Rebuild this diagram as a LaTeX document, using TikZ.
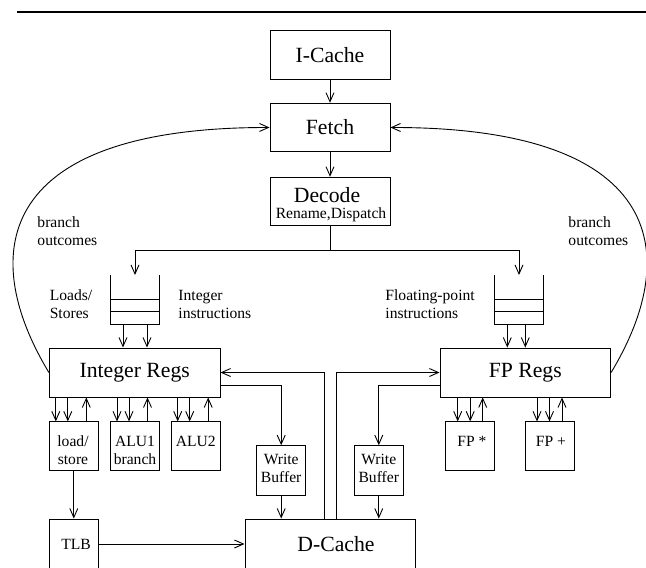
\documentclass[tikz,border=0pt]{standalone}
\usepackage{fontspec}
\setmainfont{Liberation Serif}
\usetikzlibrary{arrows.meta,calc}
\begin{document}
\begin{tikzpicture}[x=1pt,y=-1pt,line width=0.9pt,
  big/.style={font=\fontsize{21.7}{24}\selectfont},
  small/.style={font=\fontsize{15.6}{18}\selectfont},
  box/.style={draw,inner sep=0pt,align=center},
  cbox/.style={box,minimum width=120pt,minimum height=48.5pt},
  wide/.style={box,minimum width=170.7pt,minimum height=49pt},
  unit/.style={box,minimum width=49pt,minimum height=48.3pt},
  txt/.style={small,inner sep=0pt,align=center},
  lbl/.style={small,inner sep=0pt,align=left,anchor=west},
  queue/.style={inner sep=0pt,outer sep=0pt,minimum width=48.6pt,minimum height=49pt},
  arr/.style={-{Straight Barb[length=9pt,width=8pt]}}]
\useasboundingbox (0,0) rectangle (646,568);
\draw[line width=2.2pt] (17,12) -- (646,12);

% top pipeline
\node[cbox,big] (icache) at (330,55) {I-Cache};
\node[cbox,big] (fetch) at (330,127.5) {Fetch};
\node[cbox] (decode) at (330,201.5) {};
\node[big,inner sep=0pt] (decodet) at (327,195) {Decode};
\node[small,inner sep=0pt] (renamet) at (331,214.5) {Rename,Dispatch};

% queues
\node[queue] (iq) at (135,299.5) {};
\node[queue] (fq) at (519,299.5) {};
\foreach \q in {iq,fq} {
  \draw (\q.north west) -- (\q.south west) -- (\q.south east) -- (\q.north east);
  \draw ($(\q.north west)!0.49!(\q.south west)$) -- ($(\q.north east)!0.49!(\q.south east)$);
  \draw ($(\q.north west)!0.75!(\q.south west)$) -- ($(\q.north east)!0.75!(\q.south east)$);
}

% register files
\node[wide,big] (intregs) at (134.7,372.5) {Integer Regs};
\node[wide,big] (fpregs) at (525.3,372.5) {FP Regs};

% functional units
\node[unit] (ls) at (73.8,446) {};
\node[unit] (alu1) at (135,446) {};
\node[unit] (alu2) at (195.7,446) {};
\node[unit] (fpm) at (470.2,446) {};
\node[unit] (fpa) at (549.5,446) {};
\node[unit,minimum height=49.3pt] (wb1) at (281.2,470.3) {};
\node[unit,minimum height=49.3pt] (wb2) at (378.8,470.3) {};
\node[unit,minimum height=50pt] (tlb) at (73.8,544) {};
\node[wide,minimum height=50pt] (dcache) at (330.3,544) {};

\node[txt] (lst) at (73,450) {load/\\store};
\node[txt] (alu1t) at (135,450) {ALU1\\branch};
\node[txt] (alu2t) at (195.7,441) {ALU2};
\node[txt] (fpmt) at (472,441) {FP *};
\node[txt] (fpat) at (551,441) {FP +};
\node[txt] (wb1t) at (281.2,468) {Write\\Buffer};
\node[txt] (wb2t) at (378.8,468) {Write\\Buffer};
\node[txt] (tlbt) at (76,544) {TLB};
\node[big,inner sep=0pt] (dcachet) at (336,544) {D-Cache};

% side labels
\node[lbl] (bl) at (37,231) {branch\\outcomes};
\node[lbl] (br) at (568,231) {branch\\outcomes};
\node[lbl] (lsl) at (49.3,304) {Loads/\\Stores};
\node[lbl] (iil) at (178,304) {Integer\\instructions};
\node[lbl] (fil) at (385,304) {Floating-point\\instructions};

% connectors
\draw[arr] (icache.south) -- (fetch.north);
\draw[arr] (fetch.south) -- (decode.north);
\coordinate (split) at ($(decode.south)+(0,24.5)$);
\draw (decode.south) -- (split);
\draw[arr] (split) -| (iq.north);
\draw[arr] (split) -| (fq.north);

\foreach \dx in {-12,12}
  \draw[arr] ([xshift=\dx pt]iq.south) -- ([xshift=\dx pt]iq.south |- intregs.north);
\foreach \dx in {-11.7,6.3}
  \draw[arr] ([xshift=\dx pt]fq.south) -- ([xshift=\dx pt]fq.south |- fpregs.north);

\draw[arr] (intregs.west) .. controls (-25,250) and (0,127) .. (fetch.west);
\draw[arr] (fpregs.east) .. controls (685,250) and (660,127) .. (fetch.east);

\foreach \u in {ls,alu1,alu2} {
  \foreach \dx in {-18,-6}
    \draw[arr] ([xshift=\dx pt]\u.north |- intregs.south) -- ([xshift=\dx pt]\u.north);
  \draw[arr] ([xshift=12.5pt]\u.north) -- ([xshift=12.5pt]\u.north |- intregs.south);
}
\foreach \u in {fpm,fpa} {
  \foreach \dx in {-12.5,0}
    \draw[arr] ([xshift=\dx pt]\u.north |- fpregs.south) -- ([xshift=\dx pt]\u.north);
  \draw[arr] ([xshift=12.5pt]\u.north) -- ([xshift=12.5pt]\u.north |- fpregs.south);
}

\draw[arr] (ls.south) -- (tlb.north);
\draw[arr] (tlb.east) -- (dcache.west);
\draw[arr] ([yshift=-12.5pt]intregs.east) -| (wb1.north);
\draw[arr] ([yshift=-12.5pt]fpregs.west) -| (wb2.north);
\draw[arr] (wb1.south) -- (wb1.south |- dcache.north);
\draw[arr] (wb2.south) -- (wb2.south |- dcache.north);
\draw[arr] ([xshift=-6.3pt]dcache.north) |- (intregs.east);
\draw[arr] ([xshift=5.7pt]dcache.north) |- (fpregs.west);
\end{tikzpicture}
\end{document}
